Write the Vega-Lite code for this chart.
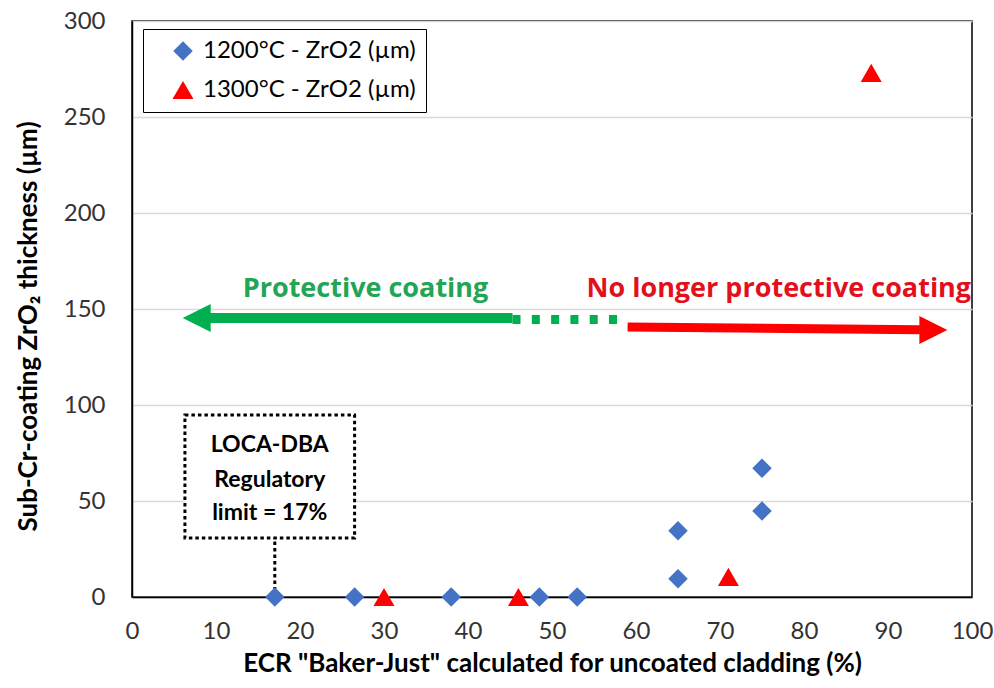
{
  "$schema": "https://vega.github.io/schema/vega-lite/v6.json",
  "width": 840,
  "height": 576,
  "autosize": "none",
  "padding": {"left": 132, "top": 21, "right": 22, "bottom": 91},
  "background": "white",
  "config": {
    "font": "Lato",
    "view": {"stroke": "#000000", "strokeWidth": 1.5},
    "axis": {"labelFont": "Lato", "titleFont": "Lato"}
  },
  "datasets": {
    "points": [
      {"series": "1200°C - ZrO2 (µm)", "ecr": 17, "thick": 0},
      {"series": "1200°C - ZrO2 (µm)", "ecr": 26.5, "thick": 0},
      {"series": "1200°C - ZrO2 (µm)", "ecr": 38, "thick": 0},
      {"series": "1200°C - ZrO2 (µm)", "ecr": 48.5, "thick": 0},
      {"series": "1200°C - ZrO2 (µm)", "ecr": 53, "thick": 0},
      {"series": "1200°C - ZrO2 (µm)", "ecr": 65, "thick": 9.5},
      {"series": "1200°C - ZrO2 (µm)", "ecr": 65, "thick": 34.5},
      {"series": "1200°C - ZrO2 (µm)", "ecr": 75, "thick": 44.8},
      {"series": "1200°C - ZrO2 (µm)", "ecr": 75, "thick": 67},
      {"series": "1300°C - ZrO2 (µm)", "ecr": 30, "thick": 0},
      {"series": "1300°C - ZrO2 (µm)", "ecr": 46, "thick": 0},
      {"series": "1300°C - ZrO2 (µm)", "ecr": 71, "thick": 10.5},
      {"series": "1300°C - ZrO2 (µm)", "ecr": 88, "thick": 273}
    ],
    "shafts": [
      {"part": "green", "ecr": 8.5, "ecr2": 45.3, "thick": 145.3, "thick2": 145.3},
      {"part": "greendots", "ecr": 45.3, "ecr2": 58.3, "thick": 144.5, "thick2": 144.5},
      {"part": "red", "ecr": 59.0, "ecr2": 93.8, "thick": 140.6, "thick2": 139.2}
    ],
    "heads": [
      {"part": "green", "ecr": 7.7, "thick": 145.3},
      {"part": "red", "ecr": 95.4, "thick": 139.1}
    ],
    "limitline": [
      {"ecr": 17, "thick": 0, "thick2": 30.7}
    ],
    "limitbox": [
      {"ecr": 6.3, "ecr2": 26.5, "thick": 30.7, "thick2": 94.8}
    ],
    "boxtext": [
      {"label": "LOCA-DBA", "ecr": 16.4, "thick": 79.2},
      {"label": "Regulatory", "ecr": 16.4, "thick": 61.0},
      {"label": "limit = 17%", "ecr": 16.4, "thick": 43.8}
    ],
    "zonetext": [
      {"label": "Protective coating", "zone": "green", "ecr": 27.8, "thick": 160.4},
      {"label": "No longer protective coating", "zone": "red", "ecr": 77.0, "thick": 160.4}
    ]
  },
  "encoding": {
    "x": {"field": "ecr", "type": "quantitative", "scale": {"domain": [0, 100], "nice": false},
      "axis": {"title": "ECR \"Baker-Just\" calculated for uncoated cladding (%)", "values": [0,10,20,30,40,50,60,70,80,90,100],
        "grid": false, "ticks": false, "tickSize": 0, "domainColor": "#000000", "domainWidth": 1.5,
        "labelFontSize": 24, "labelColor": "#333333", "labelPadding": 22, "labelFlush": false,
        "titleFontSize": 26, "titleFontWeight": "bold", "titleColor": "#000000", "titleY": 66, "titleBaseline": "middle"}},
    "y": {"field": "thick", "type": "quantitative", "scale": {"domain": [0, 300], "nice": false},
      "axis": {"title": "Sub-Cr-coating ZrO₂ thickness (µm)", "values": [0,50,100,150,200,250,300],
        "grid": true, "gridColor": "#D9D9D9", "gridWidth": 1.5, "ticks": false, "tickSize": 0,
        "domainColor": "#000000", "domainWidth": 1.5,
        "labelFontSize": 24, "labelColor": "#333333", "labelPadding": 27,
        "titleFontSize": 26, "titleFontWeight": "bold", "titleColor": "#000000",
        "titleX": -104, "titleY": 305, "titleBaseline": "middle", "titleAngle": -90}}
  },
  "layer": [
    {
      "data": {"name": "limitline"},
      "mark": {"type": "rule", "stroke": "#000000", "strokeWidth": 3, "strokeDash": [3.5, 3]},
      "encoding": {"y2": {"field": "thick2"}}
    },
    {
      "data": {"name": "limitbox"},
      "mark": {"type": "rect", "fill": "#FFFFFF", "stroke": "#000000", "strokeWidth": 3, "strokeDash": [3.5, 3]},
      "encoding": {"x2": {"field": "ecr2"}, "y2": {"field": "thick2"}}
    },
    {
      "data": {"name": "boxtext"},
      "mark": {"type": "text", "fontSize": 23, "fontWeight": "bold", "color": "#000000", "align": "center", "baseline": "middle"},
      "encoding": {"text": {"field": "label"}}
    },
    {
      "data": {"name": "zonetext"},
      "transform": [{"filter": "datum.zone === 'green'"}],
      "mark": {"type": "text", "font": "Open Sans", "fontSize": 27, "fontWeight": "bold", "color": "#22A555", "align": "center", "baseline": "middle"},
      "encoding": {"text": {"field": "label"}}
    },
    {
      "data": {"name": "zonetext"},
      "transform": [{"filter": "datum.zone === 'red'"}],
      "mark": {"type": "text", "font": "Open Sans", "fontSize": 27, "fontWeight": "bold", "color": "#E3101C", "align": "center", "baseline": "middle"},
      "encoding": {"text": {"field": "label"}}
    },
    {
      "data": {"name": "shafts"},
      "transform": [{"filter": "datum.part === 'green'"}],
      "mark": {"type": "rule", "stroke": "#00B050", "strokeWidth": 10, "strokeCap": "butt"},
      "encoding": {"x2": {"field": "ecr2"}, "y2": {"field": "thick2"}}
    },
    {
      "data": {"name": "shafts"},
      "transform": [{"filter": "datum.part === 'greendots'"}],
      "mark": {"type": "rule", "stroke": "#00B050", "strokeWidth": 9, "strokeCap": "butt", "strokeDash": [8, 11.3]},
      "encoding": {"x2": {"field": "ecr2"}, "y2": {"field": "thick2"}}
    },
    {
      "data": {"name": "shafts"},
      "transform": [{"filter": "datum.part === 'red'"}],
      "mark": {"type": "rule", "stroke": "#FF0000", "strokeWidth": 9, "strokeCap": "butt"},
      "encoding": {"x2": {"field": "ecr2"}, "y2": {"field": "thick2"}}
    },
    {
      "data": {"name": "heads"},
      "transform": [{"filter": "datum.part === 'green'"}],
      "mark": {"type": "point", "shape": "M-1,0L1,-1L1,1Z", "size": 784, "filled": true, "fill": "#00B050", "opacity": 1, "strokeWidth": 0}
    },
    {
      "data": {"name": "heads"},
      "transform": [{"filter": "datum.part === 'red'"}],
      "mark": {"type": "point", "shape": "M1,0L-1,-1L-1,1Z", "size": 784, "filled": true, "fill": "#FF0000", "opacity": 1, "strokeWidth": 0}
    },
    {
      "data": {"name": "points"},
      "mark": {"type": "point", "filled": true, "opacity": 1, "strokeWidth": 0},
      "encoding": {
        "color": {"field": "series", "type": "nominal",
          "scale": {"domain": ["1200°C - ZrO2 (µm)", "1300°C - ZrO2 (µm)"], "range": ["#4472C4", "#FF0000"]},
          "legend": {"title": null, "orient": "none", "legendX": 11, "legendY": 8,
            "strokeColor": "#000000", "fillColor": "#FFFFFF", "padding": 10,
            "labelFontSize": 24, "labelFont": "Lato", "labelColor": "#000000", "labelOffset": 8, "labelLimit": 500,
            "symbolSize": 200, "symbolOffset": 18, "rowPadding": 15, "symbolStrokeWidth": 0,
            "encode": {"legend": {"update": {"strokeWidth": {"value": 2}}}}}},
        "shape": {"field": "series", "type": "nominal",
          "scale": {"domain": ["1200°C - ZrO2 (µm)", "1300°C - ZrO2 (µm)"], "range": ["diamond", "triangle-up"]}},
        "size": {"field": "series", "type": "nominal",
          "scale": {"domain": ["1200°C - ZrO2 (µm)", "1300°C - ZrO2 (µm)"], "range": [380, 440]}, "legend": null}
      }
    }
  ]
}
